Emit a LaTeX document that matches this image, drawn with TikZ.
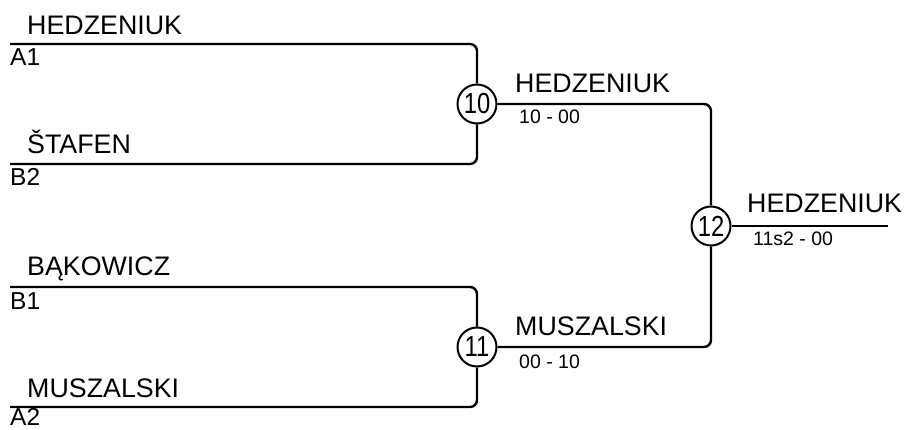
\documentclass[tikz,border=0pt]{standalone}
\usepackage{fontspec}
\setmainfont{Liberation Sans}
\begin{document}
\begin{tikzpicture}[x=1pt,y=-1pt,
  link/.style={line width=2.4pt,rounded corners=7pt},
  match/.style={circle,draw,line width=2pt,fill=white,minimum size=39pt,inner sep=0pt,
    font=\fontsize{29}{32}\selectfont},
  pname/.style={anchor=base west,inner sep=0pt,font=\fontsize{26.8}{30}\selectfont},
  seed/.style={anchor=base west,inner sep=0pt,font=\fontsize{24.5}{28}\selectfont},
  score/.style={anchor=base west,inner sep=0pt,font=\fontsize{19.5}{22}\selectfont}]
\useasboundingbox (0,0) rectangle (904,430);
% start points
\coordinate (a1) at (10,44);
\coordinate (b2) at (10,164);
\coordinate (b1) at (10,287);
\coordinate (a2) at (10,407);
\coordinate (fin) at (888,226);
% match circles
\node[match] (m10) at (477,104) {\scalebox{0.82}[1]{10}};
\node[match] (m11) at (477,347) {\scalebox{0.82}[1]{11}};
\node[match] (m12) at (711,226) {\scalebox{0.82}[1]{12}};
% connectors
\draw[link] (a1) -| (m10);
\draw[link] (b2) -| (m10);
\draw[link] (b1) -| (m11);
\draw[link] (a2) -| (m11);
\draw[link] (m10) -| (m12);
\draw[link] (m11) -| (m12);
\draw[link] (m12) -- (fin);
% names
\node[pname] (n1) at (27,35) {HEDZENIUK};
\node[seed] (s1) at (10,66) {A1};
\node[pname] (n2) at (27,154) {ŠTAFEN};
\node[seed] (s2) at (10,186) {B2};
\node[pname] (n3) at (27,276) {BĄKOWICZ};
\node[seed] (s3) at (10,309) {B1};
\node[pname] (n4) at (27,397) {MUSZALSKI};
\node[seed] (s4) at (10,425.5) {A2};
\node[pname] (w10) at (515,93) {HEDZENIUK};
\node[score] (r10) at (519,124) {10 - 00};
\node[pname] (w11) at (515,335) {MUSZALSKI};
\node[score] (r11) at (519,368) {00 - 10};
\node[pname] (w12) at (747,213) {HEDZENIUK};
\node[score] (r12) at (753,246) {11s2 - 00};
\end{tikzpicture}
\end{document}
